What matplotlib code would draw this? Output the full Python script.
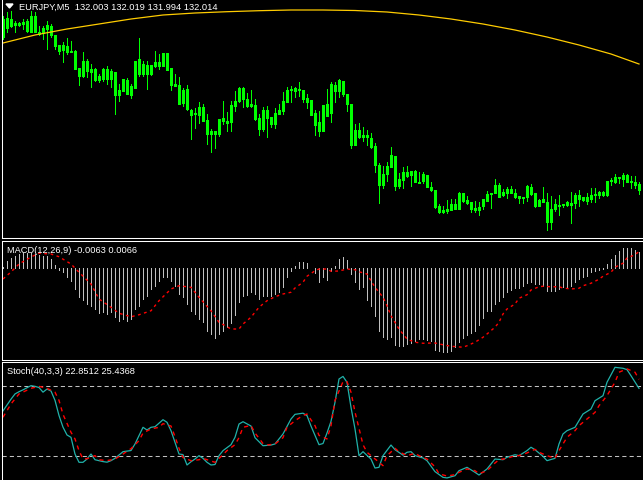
import matplotlib
matplotlib.use("Agg")
import matplotlib.pyplot as plt
from matplotlib.patches import Polygon

# EURJPY M5 candles (oldest -> newest)
opens = [132.308, 132.326, 132.344, 132.336, 132.332, 132.334, 132.340, 132.318, 132.350, 132.314,
         132.316, 132.324, 132.330, 132.312, 132.292, 132.282, 132.290, 132.280, 132.280, 132.246,
         132.230, 132.260, 132.238, 132.244, 132.230, 132.224, 132.244, 132.224, 132.238, 132.192,
         132.200, 132.222, 132.192, 132.206, 132.264, 132.234, 132.252, 132.234, 132.250, 132.258,
         132.250, 132.276, 132.246, 132.210, 132.212, 132.176, 132.204, 132.162, 132.154, 132.152,
         132.168, 132.142, 132.114, 132.120, 132.114, 132.146, 132.140, 132.138, 132.170, 132.180,
         132.206, 132.184, 132.170, 132.172, 132.146, 132.124, 132.162, 132.148, 132.134, 132.154,
         132.160, 132.178, 132.202, 132.200, 132.204, 132.202, 132.186, 132.182, 132.156, 132.138,
         132.120, 132.174, 132.156, 132.212, 132.200, 132.220, 132.194, 132.174, 132.092, 132.122,
         132.108, 132.112, 132.106, 132.090, 132.052, 132.012, 132.034, 132.048, 132.070, 132.010,
         132.022, 132.038, 132.032, 132.040, 132.018, 132.020, 132.032, 132.008, 132.002, 131.970,
         131.958, 131.960, 131.962, 131.974, 131.964, 131.996, 131.982, 131.978, 131.966, 131.962,
         131.970, 131.980, 131.994, 131.996, 132.012, 131.992, 131.996, 132.004, 131.996, 131.990,
         131.986, 131.988, 132.008, 131.996, 131.970, 131.984, 131.978, 131.938, 131.964, 131.972,
         131.972, 131.972, 131.976, 131.976, 131.992, 131.982, 131.988, 131.984, 131.992, 131.992,
         131.998, 131.992, 132.020, 132.018, 132.028, 132.024, 132.032, 132.018, 132.018, 132.003]
highs = [132.350, 132.358, 132.360, 132.340, 132.338, 132.344, 132.344, 132.360, 132.358, 132.330,
         132.330, 132.340, 132.334, 132.312, 132.292, 132.298, 132.306, 132.300, 132.282, 132.246,
         132.278, 132.264, 132.254, 132.246, 132.234, 132.246, 132.250, 132.244, 132.238, 132.214,
         132.224, 132.226, 132.214, 132.260, 132.306, 132.260, 132.260, 132.252, 132.280, 132.274,
         132.276, 132.276, 132.246, 132.234, 132.228, 132.206, 132.212, 132.164, 132.166, 132.178,
         132.174, 132.154, 132.124, 132.120, 132.144, 132.180, 132.158, 132.180, 132.200, 132.208,
         132.208, 132.196, 132.202, 132.184, 132.154, 132.168, 132.170, 132.148, 132.166, 132.174,
         132.198, 132.208, 132.210, 132.208, 132.218, 132.202, 132.194, 132.182, 132.162, 132.160,
         132.172, 132.204, 132.218, 132.218, 132.224, 132.220, 132.194, 132.174, 132.134, 132.136,
         132.128, 132.122, 132.116, 132.096, 132.056, 132.050, 132.058, 132.088, 132.070, 132.036,
         132.048, 132.050, 132.040, 132.042, 132.038, 132.038, 132.032, 132.018, 132.002, 131.974,
         131.970, 131.982, 131.984, 131.984, 131.998, 131.996, 131.990, 131.978, 131.980, 131.978,
         131.984, 132.000, 131.996, 132.024, 132.016, 132.004, 132.008, 132.010, 132.004, 131.990,
         131.988, 132.012, 132.014, 131.996, 131.984, 132.008, 131.996, 131.990, 131.984, 131.992,
         131.974, 131.980, 131.998, 131.996, 132.002, 131.988, 131.996, 132.006, 132.006, 132.000,
         132.000, 132.020, 132.026, 132.034, 132.028, 132.036, 132.034, 132.030, 132.030, 132.019]
lows = [132.304, 132.318, 132.328, 132.318, 132.330, 132.324, 132.318, 132.318, 132.318, 132.312,
        132.304, 132.284, 132.308, 132.284, 132.274, 132.258, 132.274, 132.278, 132.244, 132.212,
        132.228, 132.228, 132.208, 132.220, 132.218, 132.220, 132.214, 132.208, 132.154, 132.180,
        132.200, 132.194, 132.186, 132.206, 132.230, 132.230, 132.204, 132.232, 132.248, 132.244,
        132.250, 132.242, 132.202, 132.210, 132.174, 132.170, 132.162, 132.104, 132.126, 132.136,
        132.140, 132.094, 132.078, 132.086, 132.110, 132.134, 132.120, 132.120, 132.160, 132.178,
        132.168, 132.168, 132.168, 132.142, 132.112, 132.120, 132.108, 132.128, 132.126, 132.154,
        132.154, 132.178, 132.178, 132.188, 132.190, 132.178, 132.166, 132.152, 132.112, 132.110,
        132.120, 132.150, 132.138, 132.178, 132.188, 132.190, 132.160, 132.086, 132.092, 132.106,
        132.100, 132.092, 132.086, 132.038, 131.976, 132.006, 132.020, 132.048, 132.002, 132.006,
        132.006, 132.028, 132.010, 132.018, 132.016, 132.016, 132.008, 132.000, 131.966, 131.956,
        131.956, 131.956, 131.962, 131.964, 131.964, 131.978, 131.974, 131.958, 131.958, 131.952,
        131.964, 131.980, 131.966, 131.996, 131.988, 131.990, 131.986, 131.996, 131.986, 131.976,
        131.976, 131.980, 131.992, 131.968, 131.970, 131.978, 131.922, 131.924, 131.960, 131.952,
        131.968, 131.970, 131.936, 131.966, 131.970, 131.980, 131.974, 131.978, 131.978, 131.986,
        131.990, 131.990, 132.012, 132.016, 132.016, 132.010, 132.018, 132.006, 132.006, 131.994]
closes = [132.344, 132.346, 132.330, 132.332, 132.336, 132.338, 132.320, 132.350, 132.318, 132.318,
          132.326, 132.332, 132.312, 132.290, 132.280, 132.292, 132.278, 132.278, 132.244, 132.230,
          132.260, 132.240, 132.244, 132.222, 132.222, 132.244, 132.224, 132.240, 132.192, 132.202,
          132.224, 132.194, 132.210, 132.260, 132.234, 132.254, 132.234, 132.252, 132.258, 132.250,
          132.276, 132.242, 132.212, 132.214, 132.174, 132.202, 132.164, 132.152, 132.156, 132.168,
          132.140, 132.114, 132.120, 132.114, 132.144, 132.140, 132.136, 132.172, 132.180, 132.206,
          132.184, 132.170, 132.174, 132.144, 132.124, 132.162, 132.146, 132.134, 132.156, 132.162,
          132.180, 132.202, 132.204, 132.206, 132.202, 132.184, 132.178, 132.152, 132.132, 132.120,
          132.172, 132.150, 132.214, 132.200, 132.222, 132.194, 132.174, 132.092, 132.122, 132.108,
          132.112, 132.108, 132.088, 132.052, 132.012, 132.034, 132.050, 132.072, 132.010, 132.024,
          132.038, 132.030, 132.040, 132.018, 132.016, 132.034, 132.008, 132.002, 131.968, 131.958,
          131.962, 131.964, 131.974, 131.964, 131.996, 131.980, 131.976, 131.964, 131.962, 131.968,
          131.984, 131.994, 131.996, 132.012, 131.988, 131.998, 132.004, 131.996, 131.988, 131.986,
          131.988, 132.010, 131.994, 131.970, 131.982, 131.978, 131.938, 131.964, 131.974, 131.970,
          131.974, 131.978, 131.972, 131.992, 131.984, 131.988, 131.980, 131.992, 131.994, 131.998,
          131.992, 132.020, 132.022, 132.028, 132.026, 132.032, 132.018, 132.020, 132.012, 132.014]

# moving average (read at a few bars)
ma_bar = [0, 8, 16, 24, 32, 40, 48, 56, 64, 72, 80, 88, 96, 104, 112, 120, 128, 136, 144, 152, 159]
ma_val = [132.296, 132.312, 132.324, 132.334, 132.344, 132.352, 132.356, 132.3586, 132.3606, 132.362,
          132.362, 132.361, 132.358, 132.352, 132.344, 132.334, 132.322, 132.308, 132.292, 132.274, 132.254]

# MACD(12,26,9) histogram, one value per bar
macd_hist = [0.0004, 0.0029, 0.0040, 0.0049, 0.0056, 0.0059, 0.0059, 0.0059, 0.0056, 0.0053,
             0.0049, 0.0049, 0.0036, 0.0013, -0.0008, -0.0017, -0.0037, -0.0051, -0.0084, -0.0117,
             -0.0127, -0.0144, -0.0151, -0.0164, -0.0181, -0.0177, -0.0184, -0.0177, -0.0197, -0.0211,
             -0.0204, -0.0213, -0.0204, -0.0164, -0.0151, -0.0124, -0.0111, -0.0084, -0.0071, -0.0051,
             -0.0035, -0.0035, -0.0051, -0.0071, -0.0104, -0.0117, -0.0144, -0.0173, -0.0184, -0.0204,
             -0.0217, -0.0251, -0.0264, -0.0280, -0.0264, -0.0251, -0.0236, -0.0220, -0.0188, -0.0136,
             -0.0112, -0.0108, -0.0096, -0.0104, -0.0124, -0.0112, -0.0112, -0.0112, -0.0104, -0.0096,
             -0.0076, -0.0036, -0.0012, 0.0007, 0.0023, 0.0023, 0.0020, 0.0002, -0.0021, -0.0055,
             -0.0037, -0.0047, -0.0011, 0.0009, 0.0036, 0.0043, 0.0033, -0.0024, -0.0055, -0.0084,
             -0.0077, -0.0127, -0.0151, -0.0193, -0.0251, -0.0277, -0.0284, -0.0277, -0.0308, -0.0313,
             -0.0311, -0.0304, -0.0301, -0.0293, -0.0284, -0.0284, -0.0288, -0.0293, -0.0328, -0.0333,
             -0.0337, -0.0337, -0.0331, -0.0317, -0.0297, -0.0280, -0.0267, -0.0261, -0.0253, -0.0227,
             -0.0200, -0.0173, -0.0173, -0.0144, -0.0131, -0.0115, -0.0097, -0.0088, -0.0081, -0.0080,
             -0.0071, -0.0061, -0.0057, -0.0064, -0.0064, -0.0071, -0.0093, -0.0093, -0.0091, -0.0084,
             -0.0077, -0.0075, -0.0071, -0.0057, -0.0044, -0.0037, -0.0031, -0.0017, -0.0013, -0.0008,
             -0.0002, 0.0016, 0.0036, 0.0052, 0.0067, 0.0080, 0.0080, 0.0080, 0.0072, 0.0063]

# MACD signal line (read at a subset of bars)
sig_bar = [0, 2, 4, 7, 9, 12, 14, 17, 19, 22, 24, 27, 29, 32, 34, 37, 39, 42, 44, 47, 49, 52, 54, 57,
           59, 60, 62, 64, 66, 68, 70, 72, 73, 75, 76, 78, 79, 81, 82, 84, 85, 86, 88, 89, 91, 92, 93,
           95, 96, 97, 99, 101, 103, 105, 108, 110, 112, 115, 116, 118, 120, 121, 123, 124, 125, 126,
           128, 129, 131, 132, 134, 135, 137, 139, 140, 142, 144, 145, 147, 149, 150, 152, 153, 155,
           156, 158, 159]
sig_val = [-0.0044, -0.0016, 0.0016, 0.0044, 0.0059, 0.0056, 0.0045, 0.0016, -0.0017, -0.0064,
           -0.0124, -0.0157, -0.0181, -0.0195, -0.0187, -0.0171, -0.0131, -0.0084, -0.0071, -0.0077,
           -0.0117, -0.0171, -0.0217, -0.0244, -0.0244, -0.0224, -0.0197, -0.0157, -0.0131, -0.0115,
           -0.0104, -0.0097, -0.0080, -0.0057, -0.0033, -0.0011, -0.0004, -0.0004, -0.0013, -0.0012,
           -0.0008, -0.0004, -0.0007, -0.0015, -0.0024, -0.0051, -0.0077, -0.0117, -0.0151, -0.0191,
           -0.0244, -0.0284, -0.0297, -0.0301, -0.0300, -0.0307, -0.0313, -0.0317, -0.0311, -0.0297,
           -0.0277, -0.0264, -0.0237, -0.0217, -0.0184, -0.0164, -0.0144, -0.0121, -0.0107, -0.0088,
           -0.0075, -0.0073, -0.0075, -0.0075, -0.0080, -0.0084, -0.0081, -0.0071, -0.0061, -0.0045,
           -0.0033, -0.0017, 0.0003, 0.0019, 0.0040, 0.0053, 0.0066]

# Stochastic(40,3,3) main and signal
stm_bar = [0, 2, 3, 4, 5, 7, 8, 9, 10, 11, 12, 13, 14, 15, 16, 17, 18, 19, 20, 21, 22, 23, 24, 25, 26,
           27, 28, 30, 32, 33, 35, 36, 37, 38, 40, 41, 42, 43, 44, 45, 46, 47, 48, 49, 50, 51, 52, 53,
           54, 55, 57, 58, 59, 60, 62, 63, 65, 67, 68, 70, 72, 73, 75, 76, 77, 79, 80, 81, 82, 83, 84,
           85, 86, 87, 88, 89, 90, 92, 93, 94, 95, 97, 98, 100, 101, 102, 103, 105, 106, 108, 110, 111,
           113, 114, 116, 118, 119, 121, 123, 125, 126, 128, 129, 131, 132, 133, 135, 136, 138, 139,
           140, 141, 143, 144, 145, 147, 148, 150, 151, 153, 155, 156, 157, 159]
stm_val = [59, 69, 73.5, 75.4, 77, 80.6, 80, 79, 75, 77.7, 76, 68, 55, 45, 38.3, 36.3, 22, 14.9, 14.9,
           17.7, 22, 17.1, 16.3, 15.5, 15, 16.3, 18.3, 24, 25, 30.6, 44.9, 42.6, 44.9, 45.4, 51.4, 49.2,
           42, 32, 22, 21.5, 12.6, 15.4, 17.7, 20.6, 18.3, 14.9, 12.6, 13, 20.6, 24.9, 30, 36.3, 47.7,
           49.7, 46, 36, 29.1, 29.7, 30.6, 39.2, 52, 56, 57, 54.9, 46, 30, 31, 40, 50, 66.3, 86.3, 88.5,
           83.5, 62, 43.5, 20.6, 24, 17.7, 10, 10.6, 20.6, 29.7, 25.7, 21, 23.5, 24, 20.6, 18.6, 16.3,
           6.9, 2, 1.5, 3.4, 7.7, 10.6, 6.3, 4, 9.2, 17.7, 17.1, 19.2, 21.4, 20.6, 24.9, 27.8, 25.7, 20,
           16.3, 18.3, 30.6, 39.2, 42, 44.9, 50.6, 56.3, 60.6, 67.7, 72, 83.5, 96.3, 95.5, 94.3, 89.1,
           78.3]
sts_bar = [0, 2, 4, 7, 9, 11, 13, 14, 15, 17, 18, 19, 20, 21, 23, 24, 26, 28, 30, 32, 34, 35, 37, 39,
           40, 42, 43, 44, 45, 47, 49, 50, 52, 53, 55, 56, 58, 59, 60, 62, 63, 65, 66, 68, 70, 71, 73,
           75, 76, 78, 79, 81, 82, 83, 85, 86, 87, 88, 90, 91, 92, 94, 95, 96, 98, 99, 101, 103, 104,
           106, 108, 109, 111, 113, 114, 116, 118, 119, 121, 123, 124, 126, 128, 129, 131, 133, 134,
           136, 138, 139, 141, 143, 144, 146, 148, 149, 151, 153, 154, 156, 158, 159]
sts_val = [53.5, 64.9, 73.5, 78.3, 80, 78.3, 75, 68, 56, 40.6, 34.9, 24.9, 17.7, 18, 20.6, 17.1, 16.3,
           17.7, 22, 26.6, 33.4, 40, 43.5, 44.9, 48, 46, 36.9, 26.9, 19, 16.3, 17.1, 18.3, 16, 14.9, 21.5,
           24.9, 30, 36, 44.9, 46.5, 40, 31, 29.7, 30.6, 36, 44.9, 50.6, 55, 56.3, 46.3, 38, 34.9, 46.3,
           68, 84, 84, 75, 58, 30, 23.5, 20.6, 15, 12, 20.6, 26.9, 24, 20.6, 22.6, 20.6, 17.7, 11, 5.1,
           3.1, 4.3, 6.3, 9.2, 7.7, 5.1, 7.7, 14.3, 17.1, 18.3, 20.6, 20.6, 22.9, 26, 23.5, 20.6, 18.3,
           24.9, 36.3, 42, 46.3, 52, 57.7, 63.4, 72, 83.5, 92.1, 95, 92.1, 86]

W, H = 643, 481
fig = plt.figure(figsize=(W / 100, H / 100), dpi=100, facecolor="black")


def pane(x0, y0, x1, y1):
    # axes placed in pixel coordinates, y measured from the top
    ax = fig.add_axes([x0 / W, 1 - y1 / H, (x1 - x0) / W, (y1 - y0) / H])
    ax.set_facecolor("black")
    ax.set_xticks([])
    ax.set_yticks([])
    for s in ax.spines.values():
        s.set_color("white")
        s.set_linewidth(0.75)
    ax.spines["right"].set_visible(False)
    ax.set_xlim(-0.25, 164.25)
    return ax


bars = list(range(len(closes)))

# price pane
ax1 = pane(2, -2, 660, 239)
ax1.spines["top"].set_visible(False)
ax1.set_ylim(131.906, 132.388)
ax1.vlines(bars, lows, highs, color="#00FF00", linewidth=0.6, antialiased=False)
for i in bars:
    bottom = min(opens[i], closes[i])
    height = max(abs(closes[i] - opens[i]), 0.0004)
    fill = "black" if closes[i] >= opens[i] else "white"
    ax1.bar(i, height, bottom=bottom, width=0.5, color=fill,
            edgecolor="#00FF00", linewidth=0.6, antialiased=False)
ax1.plot(ma_bar, ma_val, color="#FFCC00", linewidth=0.9)

# MACD pane
ax2 = pane(2, 241.5, 660, 360.5)
ax2.set_ylim(-0.0366, 0.011)
ax2.vlines(bars, 0, macd_hist, color="#C0C0C0", linewidth=0.6, antialiased=False)
ax2.plot(sig_bar, sig_val, color="red", linewidth=1.0, linestyle=(0, (2, 2.5)))

# Stochastic pane
ax3 = pane(2, 362.5, 660, 485)
ax3.set_ylim(-3.7, 101.3)
for lvl in (20, 80):
    ax3.axhline(lvl, color="#C0C0C0", linewidth=0.75, linestyle=(0, (4, 3)))
ax3.plot(stm_bar, stm_val, color="#20B2AA", linewidth=0.9)
ax3.plot(sts_bar, sts_val, color="red", linewidth=1.0, linestyle=(0, (3, 3)))

# labels
font = dict(color="white", fontsize=6.7, family=["Liberation Sans", "DejaVu Sans"], va="center")
fig.text(19 / W, 1 - 7.5 / H, "EURJPY,M5  132.003 132.019 131.994 132.014", **font)
fig.text(7 / W, 1 - 250.5 / H, "MACD(12,26,9) -0.0063 0.0066", **font)
fig.text(7 / W, 1 - 371.5 / H, "Stoch(40,3,3) 22.8512 25.4368", **font)
tri = Polygon([(6 / W, 1 - 5 / H), (13 / W, 1 - 5 / H), (9.5 / W, 1 - 9 / H)],
              closed=True, color="white", transform=fig.transFigure)
fig.patches.append(tri)

fig.savefig("out.png", dpi=100, facecolor="black")
